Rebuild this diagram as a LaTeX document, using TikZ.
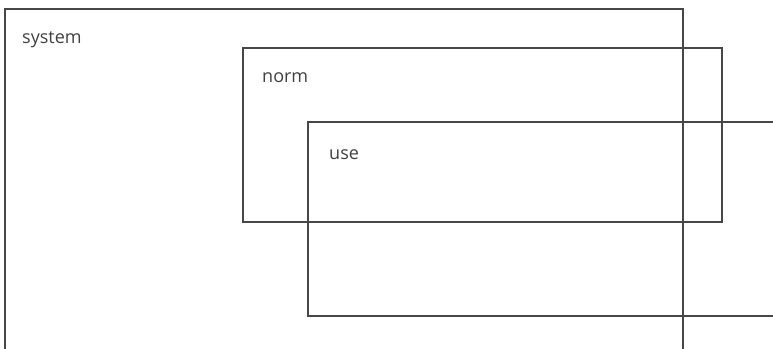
\documentclass[tikz,border=0pt]{standalone}
\usepackage{fontspec}
\setmainfont{Open Sans}
\usepackage{tikz}
\usetikzlibrary{calc}

\begin{document}
\begin{tikzpicture}[x=1pt,y=-1pt,
        frame/.style={draw=black!72,line width=1.3pt},
        lbl/.style={anchor=base west,inner sep=0pt,text=black!75,font=\fontsize{18}{21}\selectfont}]
            \clip (0,0) rectangle (773,348);
            \coordinate (S1) at (5,9);     \coordinate (S2) at (683,360);
            \coordinate (N1) at (243,48);  \coordinate (N2) at (722,222);
            \coordinate (U1) at (308,122); \coordinate (U2) at (790,316);
            \foreach \r in {S,N,U} {
                \draw[frame] (\r1) rectangle (\r2);
            }
            \node[lbl] (system) at ($(S1)+(17,34)$) {system};
            \node[lbl] (norm) at ($(N1)+(19,34)$) {norm};
            \node[lbl] (use) at ($(U1)+(21,37)$) {use};
        \end{tikzpicture}
\end{document}
